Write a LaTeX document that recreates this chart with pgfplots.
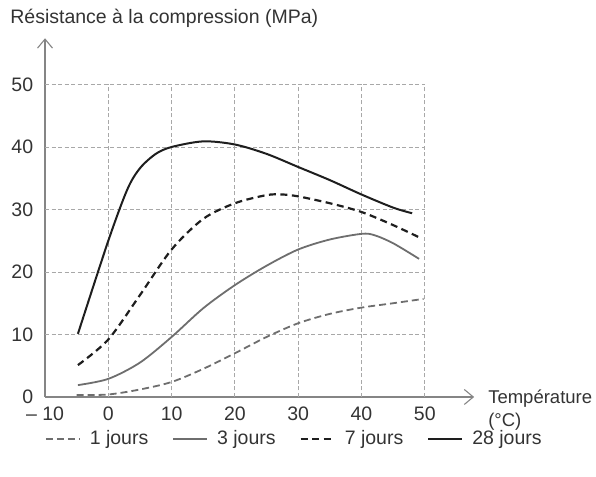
\documentclass[border=0pt]{standalone}
\usepackage{pgfplots}
\pgfplotsset{compat=1.18}
\usepackage{fontspec}
\setmainfont{Liberation Sans}
\usetikzlibrary{arrows.meta}
\definecolor{gridc}{HTML}{A8A8A8}
\definecolor{axc}{HTML}{858585}
\definecolor{txt}{HTML}{333333}
\definecolor{dk}{HTML}{1E1E1E}
\definecolor{gr}{HTML}{6E6E6E}
\begin{document}
\fontsize{19.5}{23}\selectfont
\begin{tikzpicture}
\begin{axis}[
  x=6.33pt, y=6.25pt,
  xmin=-10, xmax=57.8, ymin=0, ymax=57.4,
  axis lines=left,
  axis line style={axc, line width=1.1pt, -{Straight Barb[length=9pt,width=15pt,line width=1.1pt]}},
  xtick={-10,0,10,20,30,40,50},
  xticklabels={{–\ 10},0,10,20,30,40,50},
  ytick={0,10,20,30,40,50},
  tick style={draw=none},
  /pgf/number format/assume math mode=true,
  ticklabel style={font=\fontsize{19.5}{23}\selectfont, text=txt},
  yticklabel style={xshift=-3pt},
  xticklabel style={yshift=-1pt},
  clip=false,
  legend columns=4,
  legend style={draw=none, fill=none, font=\fontsize{19.5}{23}\selectfont, text=txt,
    at={(0.581,-0.118)}, anchor=center,
    /tikz/every odd column/.append style={column sep=7pt},
    /tikz/every even column/.append style={column sep=22pt}},
  legend image code/.code={\draw[#1] (0pt,0pt) -- (34pt,0pt);},
]
\pgfplotsinvokeforeach{0,10,20,30,40,50}{
  \draw[gridc, line width=0.8pt, dash pattern=on 4pt off 2.5pt] (axis cs:#1,0) -- (axis cs:#1,50);
}
\pgfplotsinvokeforeach{10,20,30,40,50}{
  \draw[gridc, line width=0.8pt, dash pattern=on 4pt off 2.5pt] (axis cs:-10,#1) -- (axis cs:50,#1);
}
% 1 jours
\addplot[gr, line width=1.8pt, dash pattern=on 7pt off 4pt, smooth] coordinates {
(-5,0.3) (0,0.4) (5,1.2) (10,2.4) (15,4.5) (20,7) (25,9.6) (30,11.8) (35,13.3) (40,14.3) (45,15) (49.8,15.7)};
\addlegendentry{1 jours}
% 3 jours
\addplot[gr, line width=1.8pt, smooth] coordinates {
(-4.8,1.9) (0,2.9) (5,5.5) (10,9.6) (15,14.2) (20,17.9) (25,21) (30,23.6) (35,25.2) (40,26.1) (42,25.9) (45,24.6) (49.1,22.1)};
\addlegendentry{3 jours}
% 7 jours
\addplot[dk, line width=2.2pt, dash pattern=on 7pt off 4.5pt, smooth] coordinates {
(-4.8,5.1) (0,9.2) (5,16.3) (10,23.6) (15,28.5) (20,31) (25,32.3) (27.5,32.4) (30,32.1) (35,31) (40,29.6) (45,27.5) (49.2,25.5)};
\addlegendentry{7 jours}
% 28 jours
\addplot[dk, line width=2pt, smooth] coordinates {
(-4.8,10.1) (0,25) (3,33.2) (5,36.6) (7.5,38.9) (10,40) (15,40.9) (20,40.4) (25,38.9) (30,36.8) (35,34.7) (40,32.4) (45,30.3) (48,29.4)};
\addlegendentry{28 jours}
\node[anchor=west, text=txt, inner sep=0pt] at (axis cs:-15.5,60.6) {Résistance à la compression (MPa)};
\node[anchor=west, align=left, text=txt, inner sep=0pt, font=\fontsize{18.5}{23}\selectfont] at (axis cs:60.0,-2.1) {Température\\(°C)};
\coordinate (bl) at (axis cs:-17.11,-12.8);
\coordinate (tr) at (axis cs:77.05,63.52);
\end{axis}
\pgfresetboundingbox
\path[use as bounding box] (bl) rectangle (tr);
\end{tikzpicture}
\end{document}
